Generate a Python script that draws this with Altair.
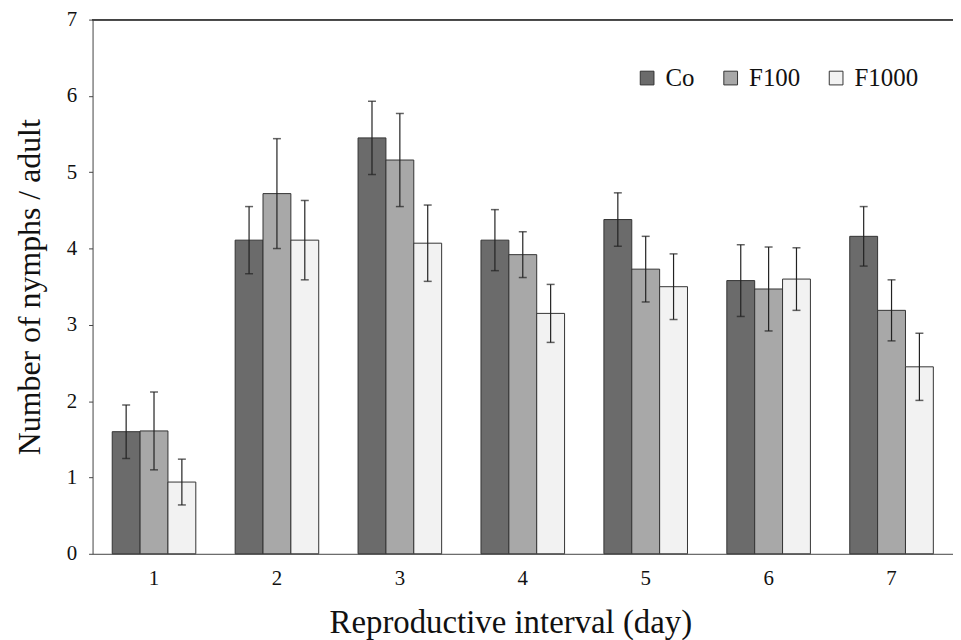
import altair as alt
import pandas as pd

days = ["1", "2", "3", "4", "5", "6", "7"]
groups = ["Co", "F100", "F1000"]
co_mean = [1.60, 4.11, 5.45, 4.11, 4.38, 3.58, 4.16]
co_err = [0.35, 0.44, 0.48, 0.40, 0.35, 0.47, 0.39]
f100_mean = [1.61, 4.72, 5.16, 3.92, 3.73, 3.47, 3.19]
f100_err = [0.51, 0.72, 0.61, 0.30, 0.43, 0.55, 0.40]
f1000_mean = [0.94, 4.11, 4.07, 3.15, 3.50, 3.60, 2.45]
f1000_err = [0.30, 0.52, 0.50, 0.38, 0.43, 0.41, 0.44]
colors = ["#6b6b6b", "#a8a8a8", "#f2f2f2"]
y_ticks = [0, 1, 2, 3, 4, 5, 6, 7]

rows = []
for g, means, errs in zip(groups, [co_mean, f100_mean, f1000_mean], [co_err, f100_err, f1000_err]):
    for d, m, e in zip(days, means, errs):
        rows.append({"day": d, "group": g, "mean": m, "err": e})
df = pd.DataFrame(rows)

FONT = "'Liberation Serif', 'Times New Roman', 'DejaVu Serif', serif"

base = alt.Chart(df).transform_calculate(
    lo="datum.mean - datum.err", hi="datum.mean + datum.err"
)

x_enc = alt.X(
    "day:N",
    sort=days,
    scale=alt.Scale(paddingInner=0.32, paddingOuter=0.16),
    axis=alt.Axis(
        title="Reproductive interval (day)",
        labelAngle=0,
        ticks=False,
        labelPadding=14,
        titlePadding=18,
        titleX=420,
        domainColor="#444",
        labelFont=FONT,
        labelFontSize=21,
        labelColor="#111",
        titleFont=FONT,
        titleFontSize=33,
        titleFontWeight="normal",
        titleColor="#111",
    ),
)
xoff = alt.XOffset("group:N", scale=alt.Scale(domain=groups))

y_scale = alt.Scale(domain=[0, 7], nice=False)

bars = base.mark_bar(stroke="#333", strokeWidth=1).encode(
    x=x_enc,
    xOffset=xoff,
    y=alt.Y(
        "mean:Q",
        scale=y_scale,
        axis=alt.Axis(
            title="Number of nymphs / adult",
            values=y_ticks,
            format="d",
            grid=False,
            tickSize=4,
            tickColor="#444",
            domainColor="#444",
            labelPadding=12,
            titlePadding=20,
            labelFont=FONT,
            labelFontSize=21,
            labelColor="#111",
            titleFont=FONT,
            titleFontSize=32,
            titleFontWeight="normal",
            titleColor="#111",
        ),
    ),
    color=alt.Color(
        "group:N",
        scale=alt.Scale(domain=groups, range=colors),
        legend=alt.Legend(
            title=None,
            orient="none",
            legendX=545,
            legendY=46,
            direction="horizontal",
            columns=3,
            symbolType="square",
            symbolSize=190,
            symbolStrokeColor="#333",
            symbolStrokeWidth=1,
            labelFont="Liberation Serif",
            labelFontSize=25,
            labelColor="#111",
            labelOffset=6,
            columnPadding=23,
        ),
    ),
)

rules = base.mark_rule(color="#222", strokeWidth=1.2).encode(
    x=alt.X("day:N", sort=days),
    xOffset=xoff,
    y=alt.Y("lo:Q", scale=y_scale),
    y2="hi:Q",
)

cap_lo = base.mark_tick(color="#222", size=8, thickness=1.5).encode(
    x=alt.X("day:N", sort=days),
    xOffset=xoff,
    y=alt.Y("lo:Q", scale=y_scale),
)
cap_hi = base.mark_tick(color="#222", size=8, thickness=1.5).encode(
    x=alt.X("day:N", sort=days),
    xOffset=xoff,
    y=alt.Y("hi:Q", scale=y_scale),
)

top_line = alt.Chart(df).mark_rule(color="#444", strokeWidth=1).encode(
    y=alt.datum(7)
)

chart = (
    alt.layer(bars, rules, cap_lo, cap_hi, top_line)
    .properties(
        width=865,
        height=537,
        autosize=alt.AutoSizeParams(type="none"),
        padding={"left": 85, "top": 10, "right": 0, "bottom": 85},
        background="white",
    )
    .configure(font=FONT)
    .configure_view(stroke=None)
)

chart.save("out.html", embed_options={"renderer": "svg", "actions": False})
